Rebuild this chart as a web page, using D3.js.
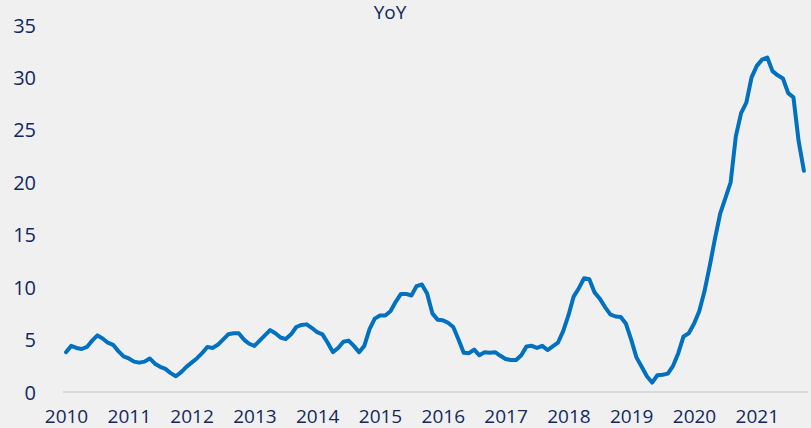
<!DOCTYPE html>
<html>
<head>
<meta charset="utf-8">
<script src="https://cdn.jsdelivr.net/npm/d3@7"></script>
<style>
  html, body { margin: 0; padding: 0; background: #f0f0f0; overflow: hidden; }
  svg { display: block; }
  text { font-family: "Open Sans", "Noto Sans", sans-serif; fill: #13285f; }
</style>
</head>
<body>
<div id="chart"></div>
<script>
var title = "YoY";
var years = ["2010", "2011", "2012", "2013", "2014", "2015", "2016", "2017", "2018", "2019", "2020", "2021"];
var yTicks = [0, 5, 10, 15, 20, 25, 30, 35];
// monthly values, Jan 2010 .. Oct 2021
var yoy = [
  3.8, 4.4, 4.2, 4.1, 4.3, 4.9, 5.4, 5.1, 4.7, 4.5, 3.9, 3.4,
  3.2, 2.9, 2.8, 2.9, 3.2, 2.7, 2.4, 2.2, 1.8, 1.5, 1.9, 2.4,
  2.8, 3.2, 3.7, 4.3, 4.2, 4.5, 5.0, 5.5, 5.6, 5.6, 5.0, 4.6,
  4.4, 4.9, 5.4, 5.9, 5.6, 5.2, 5.05, 5.5, 6.2, 6.4, 6.45, 6.1,
  5.7, 5.5, 4.7, 3.8, 4.2, 4.8, 4.9, 4.4, 3.8, 4.4, 6.0, 7.0,
  7.3, 7.3, 7.7, 8.6, 9.35, 9.35, 9.2, 10.1, 10.25, 9.4, 7.5, 6.9,
  6.85, 6.6, 6.2, 5.0, 3.75, 3.7, 4.05, 3.5, 3.8, 3.75, 3.8, 3.45,
  3.15, 3.05, 3.05, 3.5, 4.35, 4.4, 4.2, 4.4, 4.0, 4.35, 4.7, 5.8,
  7.3, 9.1, 9.9, 10.85, 10.75, 9.5, 8.9, 8.1, 7.4, 7.2, 7.15, 6.5,
  5.0, 3.3, 2.4, 1.5, 0.9, 1.6, 1.65, 1.75, 2.5, 3.7, 5.3, 5.6,
  6.5, 7.7, 9.6, 12.0, 14.6, 17.0, 18.5, 20.0, 24.4, 26.6, 27.6, 30.0,
  31.1, 31.7, 31.9, 30.6, 30.2, 29.9, 28.5, 28.1, 23.9, 21.1
];

var width = 811, height = 428;

var svg = d3.select("#chart")
    .append("svg")
    .attr("width", width)
    .attr("height", height);

var x = d3.scaleLinear()
    .domain([0, 132])
    .range([66, 756.8]);

var y = d3.scaleLinear()
    .domain([0, 35])
    .range([392, 25]);

// baseline at zero
svg.append("line")
    .attr("x1", 63)
    .attr("x2", 808)
    .attr("y1", y(0))
    .attr("y2", y(0))
    .attr("stroke", "#d9d9d9")
    .attr("stroke-width", 2);

// y axis labels
var yAxis = d3.axisLeft(y)
    .tickValues(yTicks)
    .tickSize(0)
    .tickPadding(0);
svg.append("g")
    .attr("transform", "translate(36,0)")
    .call(yAxis)
    .call(function(g) { g.select(".domain").remove(); })
    .selectAll("text")
    .attr("dy", ".35em")
    .style("font-size", "20px")
    .attr("fill", "#13285f");

// x axis labels, one per January (kept just inside the bottom edge)
var xAxis = d3.axisBottom(x)
    .tickValues(years.map(function(d, i) { return i * 12; }))
    .tickFormat(function(d) { return years[d / 12]; })
    .tickSize(0)
    .tickPadding(0);
svg.append("g")
    .attr("transform", "translate(0,423)")
    .call(xAxis)
    .call(function(g) { g.select(".domain").remove(); })
    .selectAll("text")
    .attr("dy", 0)
    .style("font-size", "19px")
    .attr("fill", "#13285f");

var line = d3.line()
    .x(function(d, i) { return x(i); })
    .y(function(d) { return y(d); });

svg.append("path")
    .datum(yoy)
    .attr("d", line)
    .attr("fill", "none")
    .attr("stroke", "#0070c0")
    .attr("stroke-width", 4)
    .attr("stroke-linejoin", "round")
    .attr("stroke-linecap", "round");

svg.append("text")
    .attr("x", 390)
    .attr("y", 19)
    .attr("text-anchor", "middle")
    .style("font-size", "19px")
    .text(title);
</script>
</body>
</html>
